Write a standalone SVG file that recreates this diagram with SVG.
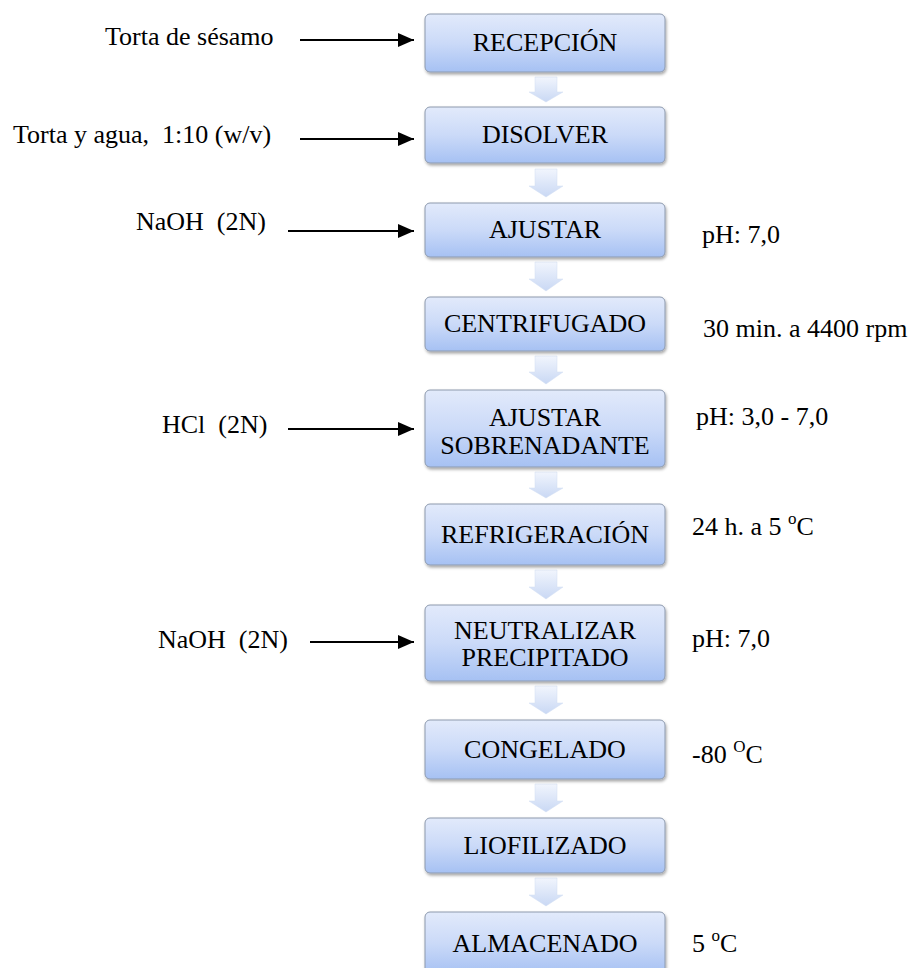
<svg xmlns="http://www.w3.org/2000/svg" width="917" height="968" viewBox="0 0 917 968">
<defs>
<linearGradient id="boxg" x1="0" y1="0" x2="0" y2="1">
<stop offset="0" stop-color="#e2eafb"/>
<stop offset="0.5" stop-color="#cbdaf8"/>
<stop offset="1" stop-color="#a6c1f3"/>
</linearGradient>
<linearGradient id="arrg" x1="0" y1="0" x2="0" y2="1">
<stop offset="0" stop-color="#f1f5fd"/>
<stop offset="1" stop-color="#c9d8f4"/>
</linearGradient>
<filter id="sh" x="-10%" y="-20%" width="120%" height="150%">
<feDropShadow dx="1" dy="2" stdDeviation="1.5" flood-color="#000" flood-opacity="0.35"/>
</filter>
<marker id="ah" markerWidth="16" markerHeight="14" refX="16" refY="7" orient="auto" markerUnits="userSpaceOnUse">
<path d="M0,0 L16,7 L0,14 Z" fill="#000"/>
</marker>
</defs>
<style>
.box{fill:url(#boxg);stroke:#8d9aae;stroke-width:1;filter:url(#sh)}
.t{font-family:"Liberation Serif","Times New Roman","DejaVu Serif",serif;font-size:26px;fill:#000}
.c{text-anchor:middle}
.ln{stroke:#000;stroke-width:2.2;fill:none;marker-end:url(#ah)}
.da{fill:url(#arrg);stroke:#d3def3;stroke-width:0.5}
</style>

<g id="connectors">
<line class="ln" x1="300" y1="40" x2="414" y2="40"/>
<line class="ln" x1="300" y1="139" x2="414" y2="139"/>
<line class="ln" x1="288" y1="231" x2="414" y2="231"/>
<line class="ln" x1="288" y1="429" x2="414" y2="429"/>
<line class="ln" x1="310" y1="642" x2="414" y2="642"/>
<polygon class="da" points="535,77 557,77 557,92 563,92 546,102 529,92 535,92"/>
<polygon class="da" points="535,169 557,169 557,186 563,186 546,197 529,186 535,186"/>
<polygon class="da" points="535,262 557,262 557,279 563,279 546,291 529,279 535,279"/>
<polygon class="da" points="535,356 557,356 557,372 563,372 546,384 529,372 535,372"/>
<polygon class="da" points="535,472 557,472 557,488 563,488 546,498 529,488 535,488"/>
<polygon class="da" points="535,570 557,570 557,587 563,587 546,599 529,587 535,587"/>
<polygon class="da" points="535,686 557,686 557,703 563,703 546,714 529,703 535,703"/>
<polygon class="da" points="535,784 557,784 557,801 563,801 546,812 529,801 535,801"/>
<polygon class="da" points="535,878 557,878 557,895 563,895 546,906 529,895 535,895"/>
</g>

<g id="in1"><text class="t" x="105" y="45">Torta de sésamo</text></g>
<g id="in2"><text class="t" x="13" y="143" xml:space="preserve">Torta y agua,  1:10 (w/v)</text></g>
<g id="in3"><text class="t" x="136" y="230" xml:space="preserve">NaOH  (2N)</text></g>
<g id="in4"><text class="t" x="162" y="433" xml:space="preserve">HCl  (2N)</text></g>
<g id="in5"><text class="t" x="158" y="648" xml:space="preserve">NaOH  (2N)</text></g>

<g id="n1"><rect class="box" x="425" y="14" width="240" height="58" rx="5"/><text class="t c" x="545" y="51">RECEPCIÓN</text></g>
<g id="n2"><rect class="box" x="425" y="107" width="240" height="56" rx="5"/><text class="t c" x="545" y="143">DISOLVER</text></g>
<g id="n3"><rect class="box" x="425" y="203" width="240" height="54" rx="5"/><text class="t c" x="545" y="238">AJUSTAR</text></g>
<g id="n4"><rect class="box" x="425" y="297" width="240" height="54" rx="5"/><text class="t c" x="545" y="332">CENTRIFUGADO</text></g>
<g id="n5"><rect class="box" x="425" y="390" width="240" height="77" rx="5"/><text class="t c" x="545" y="426">AJUSTAR</text><text class="t c" x="545" y="454">SOBRENADANTE</text></g>
<g id="n6"><rect class="box" x="425" y="504" width="240" height="61" rx="5"/><text class="t c" x="545" y="543">REFRIGERACIÓN</text></g>
<g id="n7"><rect class="box" x="425" y="605" width="240" height="76" rx="5"/><text class="t c" x="545" y="639">NEUTRALIZAR</text><text class="t c" x="545" y="666">PRECIPITADO</text></g>
<g id="n8"><rect class="box" x="425" y="720" width="240" height="59" rx="5"/><text class="t c" x="545" y="758">CONGELADO</text></g>
<g id="n9"><rect class="box" x="425" y="818" width="240" height="55" rx="5"/><text class="t c" x="545" y="854">LIOFILIZADO</text></g>
<g id="n10"><rect class="box" x="425" y="912" width="240" height="62" rx="5"/><text class="t c" x="545" y="952">ALMACENADO</text></g>

<g id="c3"><text class="t" x="702" y="243">pH: 7,0</text></g>
<g id="c4"><text class="t" x="703" y="337">30 min. a 4400 rpm</text></g>
<g id="c5"><text class="t" x="696" y="425">pH: 3,0 - 7,0</text></g>
<g id="c6"><text class="t" x="692" y="535">24 h. a 5 <tspan font-size="17" dy="-11">o</tspan><tspan dy="11">C</tspan></text></g>
<g id="c7"><text class="t" x="692" y="647">pH: 7,0</text></g>
<g id="c8"><text class="t" x="692" y="763">-80 <tspan font-size="17" dy="-11">O</tspan><tspan dy="11">C</tspan></text></g>
<g id="c10"><text class="t" x="692" y="952">5 <tspan font-size="17" dy="-11">o</tspan><tspan dy="11">C</tspan></text></g>
</svg>
